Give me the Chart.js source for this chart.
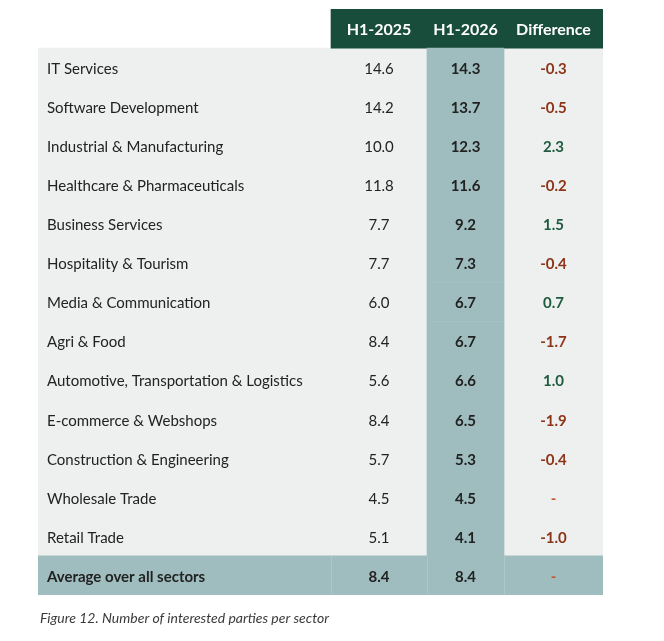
<!DOCTYPE html>
<html>
<head>
<meta charset="utf-8">
<script src="https://cdn.jsdelivr.net/npm/chart.js@4.4.1/dist/chart.umd.min.js"></script>
<style>
  html, body { margin: 0; padding: 0; background: #ffffff; }
  #wrap { width: 664px; height: 641px; }
</style>
</head>
<body>
<div id="wrap"><canvas id="sectorTable"></canvas></div>
<script>
// --- table data ---
const columnHeaders = ['H1-2025', 'H1-2026', 'Difference'];
const sectors = [
    'IT Services', 'Software Development', 'Industrial & Manufacturing',
    'Healthcare & Pharmaceuticals', 'Business Services', 'Hospitality & Tourism',
    'Media & Communication', 'Agri & Food', 'Automotive, Transportation & Logistics',
    'E-commerce & Webshops', 'Construction & Engineering', 'Wholesale Trade', 'Retail Trade'
];
const h1_2025 = [14.6, 14.2, 10.0, 11.8, 7.7, 7.7, 6.0, 8.4, 5.6, 8.4, 5.7, 4.5, 5.1];
const h1_2026 = [14.3, 13.7, 12.3, 11.6, 9.2, 7.3, 6.7, 6.7, 6.6, 6.5, 5.3, 4.5, 4.1];
const difference = [-0.3, -0.5, 2.3, -0.2, 1.5, -0.4, 0.7, -1.7, 1.0, -1.9, -0.4, 0, -1.0];
const averageLabel = 'Average over all sectors';
const average = [8.4, 8.4, 0];
const caption = 'Figure 12. Number of interested parties per sector';

// --- layout (table units along x) ---
const TABLE_W = 565;
const colEdges = [0, 293, 389, 466, 565];   // label | H1-2025 | H1-2026 | Difference
const colCenter = i => (colEdges[i + 1] + colEdges[i + 2]) / 2;

const FONT = "Lato, 'Noto Sans', sans-serif";
const C = {
    header: '#184d3c',
    body: '#edf0ef',
    teal: '#9fbdbf',
    text: '#222222',
    red: '#8c3418',
    green: '#1f5a3f',
    dash: '#c4572e'
};

const rows = ['header', ...sectors, 'average'];
const last = rows.length - 1;

// floating bars used as cell backgrounds
const headerBg = rows.map((r, i) => i === 0 ? [colEdges[1], TABLE_W] : null);
const bodyBg = rows.map((r, i) => (i > 0 && i < last) ? [0, TABLE_W] : null);
const tealCol = rows.map((r, i) => (i > 0 && i < last) ? [colEdges[2], colEdges[3]] : null);
const avgBg = rows.map((r, i) => i === last ? [0, TABLE_W] : null);

const fmt = v => v.toFixed(1);
const diffText = v => v === 0 ? '-' : fmt(v);
const diffColor = v => v === 0 ? C.dash : (v > 0 ? C.green : C.red);

const tableText = {
    id: 'tableText',
    afterDatasetsDraw(chart) {
        const { ctx, scales: { x, y } } = chart;
        ctx.save();
        ctx.textBaseline = 'middle';

        // header
        ctx.font = `bold 16px ${FONT}`;
        ctx.fillStyle = '#ffffff';
        ctx.textAlign = 'center';
        columnHeaders.forEach((h, c) => {
            ctx.fillText(h, x.getPixelForValue(colCenter(c)), y.getPixelForValue(0) + 1.5);
        });

        // sector rows
        sectors.forEach((s, i) => {
            const py = y.getPixelForValue(i + 1) + 1.5;
            ctx.textAlign = 'left';
            ctx.font = `15px ${FONT}`;
            ctx.fillStyle = C.text;
            ctx.fillText(s, x.getPixelForValue(9), py);

            ctx.textAlign = 'center';
            ctx.fillText(fmt(h1_2025[i]), x.getPixelForValue(colCenter(0)), py);
            ctx.font = `bold 15px ${FONT}`;
            ctx.fillText(fmt(h1_2026[i]), x.getPixelForValue(colCenter(1)), py);
            ctx.fillStyle = diffColor(difference[i]);
            ctx.fillText(diffText(difference[i]), x.getPixelForValue(colCenter(2)), py);
        });

        // average row
        const ay = y.getPixelForValue(last) + 1.5;
        ctx.font = `bold 15px ${FONT}`;
        ctx.fillStyle = C.text;
        ctx.textAlign = 'left';
        ctx.fillText(averageLabel, x.getPixelForValue(9), ay);
        ctx.textAlign = 'center';
        ctx.fillText(fmt(average[0]), x.getPixelForValue(colCenter(0)), ay);
        ctx.fillText(fmt(average[1]), x.getPixelForValue(colCenter(1)), ay);
        ctx.fillStyle = diffColor(average[2]);
        ctx.fillText(diffText(average[2]), x.getPixelForValue(colCenter(2)), ay);

        // faint column separators in the average row
        const mid = y.getPixelForValue(last);
        const half = (y.getPixelForValue(1) - y.getPixelForValue(0)) / 2;
        ctx.strokeStyle = 'rgba(255,255,255,0.15)';
        ctx.lineWidth = 1;
        [1, 2, 3].forEach(e => {
            const px = Math.round(x.getPixelForValue(colEdges[e])) + 0.5;
            ctx.beginPath();
            ctx.moveTo(px, mid - half);
            ctx.lineTo(px, mid + half);
            ctx.stroke();
        });

        // caption
        ctx.font = `italic 14px ${FONT}`;
        ctx.fillStyle = '#3a3a3a';
        ctx.textAlign = 'left';
        ctx.fillText(caption, 40, 618);
        ctx.restore();
    }
};

const barDefaults = { barPercentage: 1, categoryPercentage: 1, grouped: false, borderWidth: 0, borderSkipped: false };

new Chart(document.getElementById('sectorTable'), {
    type: 'bar',
    data: {
        labels: rows,
        datasets: [
            { ...barDefaults, data: tealCol, backgroundColor: C.teal },
            { ...barDefaults, data: headerBg, backgroundColor: C.header },
            { ...barDefaults, data: avgBg, backgroundColor: C.teal },
            { ...barDefaults, data: bodyBg, backgroundColor: C.body }
        ]
    },
    options: {
        indexAxis: 'y',
        responsive: true,
        maintainAspectRatio: false,
        animation: false,
        layout: { padding: { left: 38, right: 61, top: 9, bottom: 46 } },
        plugins: { legend: { display: false }, tooltip: { enabled: false } },
        scales: {
            x: { display: false, min: 0, max: TABLE_W },
            y: { display: false }
        }
    },
    plugins: [tableText]
});
</script>
</body>
</html>
